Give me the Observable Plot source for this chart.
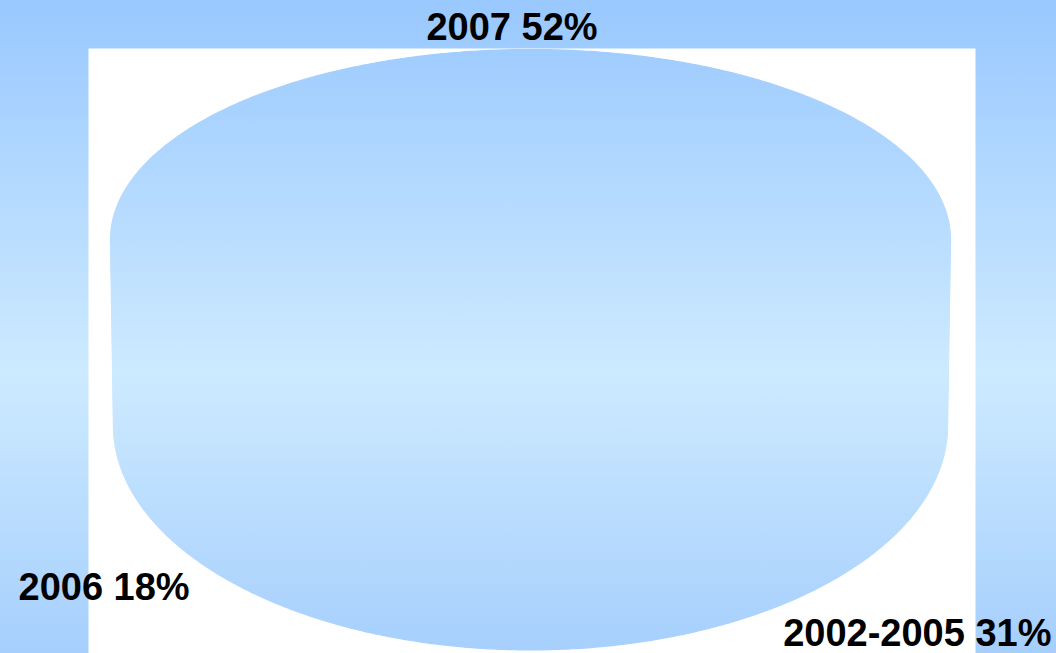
<!DOCTYPE html>
<html>
<head>
<meta charset="utf-8">
<script src="https://cdn.jsdelivr.net/npm/d3@7"></script>
<script src="https://cdn.jsdelivr.net/npm/@observablehq/plot@0.6"></script>
<style>
  html, body { margin: 0; padding: 0; width: 1056px; height: 653px; overflow: hidden; }
  body { background: linear-gradient(to bottom, #99c8fe 0%, #cdeaff 57%, #a6cffd 100%); }
  #chart svg { display: block; }
</style>
</head>
<body>
<div id="chart"></div>
<script>
// ---- data ----
const categories = ["2007", "2002-2005", "2006"];
const shares = [52, 31, 18];

// ---- 3D pie geometry (layout constants) ----
const DEPTH = 0.98;      // vertical offset of the bottom face (in top-radius units)
const BOTTOM_RY = 1.18;  // perspective: bottom face looks more open
const BOTTOM_RX = 0.993;

const total = d3.sum(shares);
const half = shares[0] / total * Math.PI;
const arcs = d3.pie().sort(null).startAngle(-half).endAngle(2 * Math.PI - half)(shares);

const topPt = t => [Math.sin(t), Math.cos(t)];
const botPt = t => [BOTTOM_RX * Math.sin(t), -DEPTH + BOTTOM_RY * Math.cos(t)];
function angles(a0, a1) {
  const n = Math.max(2, Math.ceil((a1 - a0) / (Math.PI / 360)));
  return d3.range(n + 1).map(i => a0 + (a1 - a0) * i / n);
}

const rows = [];
arcs.forEach((a, i) => {
  // walls (front half only)
  [[Math.PI / 2, 3 * Math.PI / 2], [-3 * Math.PI / 2, -Math.PI / 2]].forEach(([f0, f1], k) => {
    const w0 = Math.max(a.startAngle, f0), w1 = Math.min(a.endAngle, f1);
    if (w1 > w0) {
      const id = `wall-${i}-${k}`;
      angles(w0, w1).forEach(t => { const [x, y] = topPt(t); rows.push({id, x, y}); });
      angles(w0, w1).reverse().forEach(t => { const [x, y] = botPt(t); rows.push({id, x, y}); });
    }
  });
});
arcs.forEach((a, i) => {
  // top face sector
  const id = `top-${i}`;
  rows.push({id, x: 0, y: 0});
  angles(a.startAngle, a.endAngle).forEach(t => { const [x, y] = topPt(t); rows.push({id, x, y}); });
});

const label = i => `${categories[i]} ${shares[i]}%`;
const textStyle = {fontFamily: "'Liberation Sans', Arial, sans-serif", fontWeight: "bold", fontSize: 38, fill: "black", lineAnchor: "bottom"};

const svg = Plot.plot({
  width: 1056,
  height: 653,
  marginLeft: 88,
  marginRight: 81,
  marginTop: 48,
  marginBottom: 0,
  style: {background: "transparent", overflow: "visible"},
  x: {domain: [-1, 1], range: [110, 950], axis: null},
  y: {domain: [-1, 1], range: [429, 49], axis: null},
  marks: [
    Plot.frame({fill: "white", stroke: "none"}),
    Plot.line(rows, {x: "x", y: "y", z: "id", curve: "linear-closed",
      fill: "url(#bgfill)", stroke: "url(#bgfill)", strokeWidth: 1.2}),
    Plot.text([label(0)], {text: d => d, frameAnchor: "top", textAnchor: "middle", dx: -20, dy: -9, ...textStyle}),
    Plot.text([label(2)], {text: d => d, frameAnchor: "bottom-left", textAnchor: "start", dx: -70, dy: -54, ...textStyle}),
    Plot.text([label(1)], {text: d => d, frameAnchor: "bottom-right", textAnchor: "end", dx: 76, dy: -8, ...textStyle})
  ]
});

// gradient matching the page background, so the pie shows the backdrop through it
const defs = d3.select(svg).insert("defs", ":first-child");
const grad = defs.append("linearGradient").attr("id", "bgfill")
  .attr("gradientUnits", "userSpaceOnUse")
  .attr("x1", 0).attr("y1", 0).attr("x2", 0).attr("y2", 653);
[["0%", "#99c8fe"], ["57%", "#cdeaff"], ["100%", "#a6cffd"]].forEach(([o, c]) =>
  grad.append("stop").attr("offset", o).attr("stop-color", c));

document.getElementById("chart").appendChild(svg);
</script>
</body>
</html>
